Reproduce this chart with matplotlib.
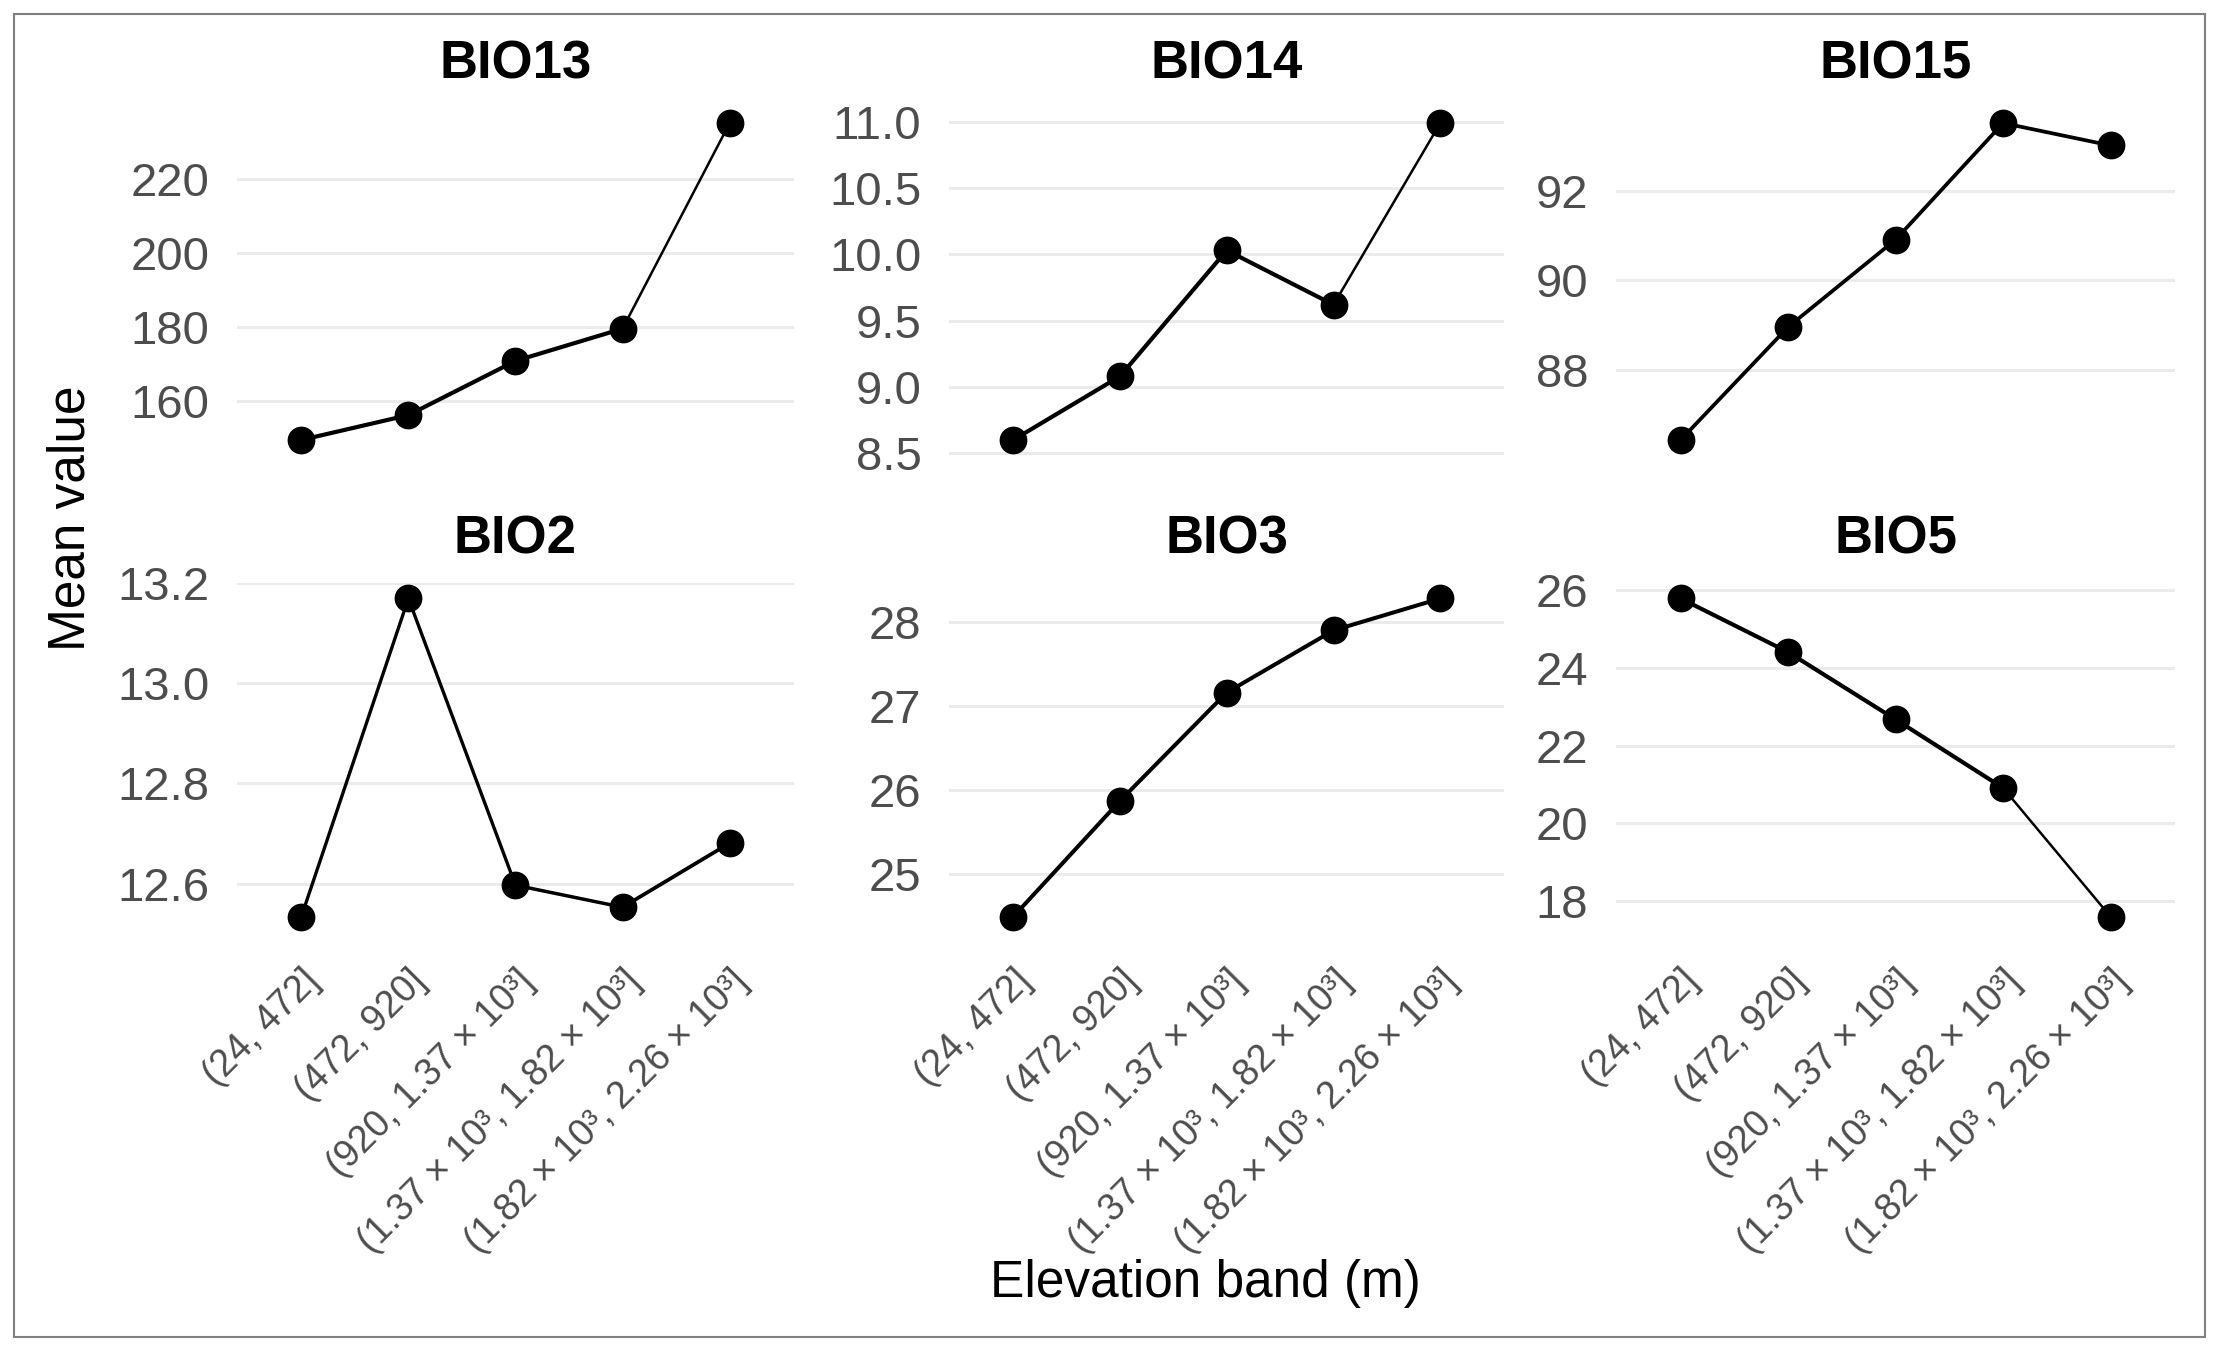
import matplotlib
matplotlib.use("Agg")
import matplotlib.pyplot as plt
from matplotlib.patches import Rectangle
from matplotlib.transforms import ScaledTranslation

plt.rcParams['font.family'] = ['Liberation Sans', 'DejaVu Sans']

bands = ["(24, 472]", "(472, 920]", "(920, 1.37 × 10³]",
         "(1.37 × 10³, 1.82 × 10³]", "(1.82 × 10³, 2.26 × 10³]"]

panel_names = ["BIO13", "BIO14", "BIO15", "BIO2", "BIO3", "BIO5"]

bio13 = [149.6, 156.3, 170.9, 179.6, 235.0]
bio14 = [8.60, 9.08, 10.03, 9.62, 10.99]
bio15 = [86.44, 88.96, 90.91, 93.51, 93.01]
bio2 = [12.534, 13.169, 12.597, 12.553, 12.681]
bio3 = [24.49, 25.87, 27.16, 27.90, 28.28]
bio5 = [25.78, 24.40, 22.67, 20.91, 17.60]

ticks13 = [160, 180, 200, 220]
ticks14 = [8.5, 9.0, 9.5, 10.0, 10.5, 11.0]
ticks15 = [88, 90, 92]
ticks2 = [12.6, 12.8, 13.0, 13.2]
ticks3 = [25, 26, 27, 28]
ticks5 = [18, 20, 22, 24, 26]

fmt13 = "{:.0f}"
fmt14 = "{:.1f}"
fmt15 = "{:.0f}"
fmt2 = "{:.1f}"
fmt3 = "{:.0f}"
fmt5 = "{:.0f}"

# per-segment line widths (style)
lw13 = [3.0, 3.0, 3.0, 1.8]
lw14 = [3.0, 3.0, 3.0, 1.8]
lw15 = [2.7, 2.7, 2.7, 2.7]
lw2 = [2.4, 2.4, 2.5, 2.7]
lw3 = [2.9, 2.9, 2.9, 2.9]
lw5 = [3.0, 3.0, 3.0, 1.8]

series = [bio13, bio14, bio15, bio2, bio3, bio5]
ticks = [ticks13, ticks14, ticks15, ticks2, ticks3, ticks5]
fmts = [fmt13, fmt14, fmt15, fmt2, fmt3, fmt5]
lws = [lw13, lw14, lw15, lw2, lw3, lw5]

W, H = 2219, 1351
fig = plt.figure(figsize=(W / 100, H / 100), dpi=100)
fig.patch.set_facecolor("white")

# layout (in fractions of a 1568x955 reference frame)
col_x = [(167.5, 561.0), (670.7, 1063.0), (1142.0, 1537.0)]
row_y = [(75.8, 322.2), (411.8, 659.3)]
RW, RH = 1568.0, 955.0

xs = list(range(len(bands)))

for i, name in enumerate(panel_names):
    r, c = divmod(i, 3)
    x0, x1 = col_x[c]
    y0, y1 = row_y[r]
    ax = fig.add_axes([x0 / RW, 1 - y1 / RH, (x1 - x0) / RW, (y1 - y0) / RH])
    vals = series[i]
    for k in range(len(vals) - 1):
        ax.plot(xs[k:k + 2], vals[k:k + 2], color="black", lw=lws[i][k],
                solid_capstyle="round", zorder=3)
    ax.plot(xs, vals, linestyle="none", marker="o", ms=19, color="black", zorder=4)
    lo, hi = min(vals), max(vals)
    rng = hi - lo
    ax.set_ylim(lo - 0.05 * rng, hi + 0.05 * rng)
    ax.set_xlim(-0.6, len(bands) - 1 + 0.6)
    ax.set_yticks(ticks[i])
    ax.set_yticklabels([fmts[i].format(t) for t in ticks[i]])
    ax.set_xticks(xs)
    if r == 1:
        ax.set_xticklabels(bands, rotation=45, ha="right", va="top",
                           rotation_mode="anchor", fontsize=27, color="#4d4d4d")
        for lab in ax.get_xticklabels():
            lab.set_transform(lab.get_transform() +
                              ScaledTranslation(0.27, 0.0, fig.dpi_scale_trans))
    else:
        ax.set_xticklabels([])
    ax.tick_params(axis="both", length=0)
    ax.tick_params(axis="y", labelsize=34, labelcolor="#4d4d4d", pad=20)
    ax.tick_params(axis="x", pad=22)
    ax.grid(axis="y", color="#ebebeb", lw=2.2)
    ax.grid(axis="x", visible=False)
    ax.set_axisbelow(True)
    for s in ax.spines.values():
        s.set_visible(False)
    ax.set_facecolor("none")
    ax.annotate(name, xy=(0.5, 1.0), xycoords="axes fraction",
                xytext=(0, 21), textcoords="offset points",
                ha="center", va="baseline", fontsize=38, fontweight="bold",
                color="black")

fig.text(50 / RW, 1 - 366 / RH, "Mean value", rotation=90, ha="center",
         va="center", fontsize=37, color="black")
fig.text(852 / RW, 1 - 907 / RH, "Elevation band (m)", ha="center",
         va="center", fontsize=37, color="black")

fig.patches.append(Rectangle((10 / RW, 1 - 945 / RH), 1548 / RW, 935 / RH,
                             transform=fig.transFigure, fill=False,
                             edgecolor="#808080", lw=1.5))

fig.savefig("out.png", dpi=100, facecolor="white")
